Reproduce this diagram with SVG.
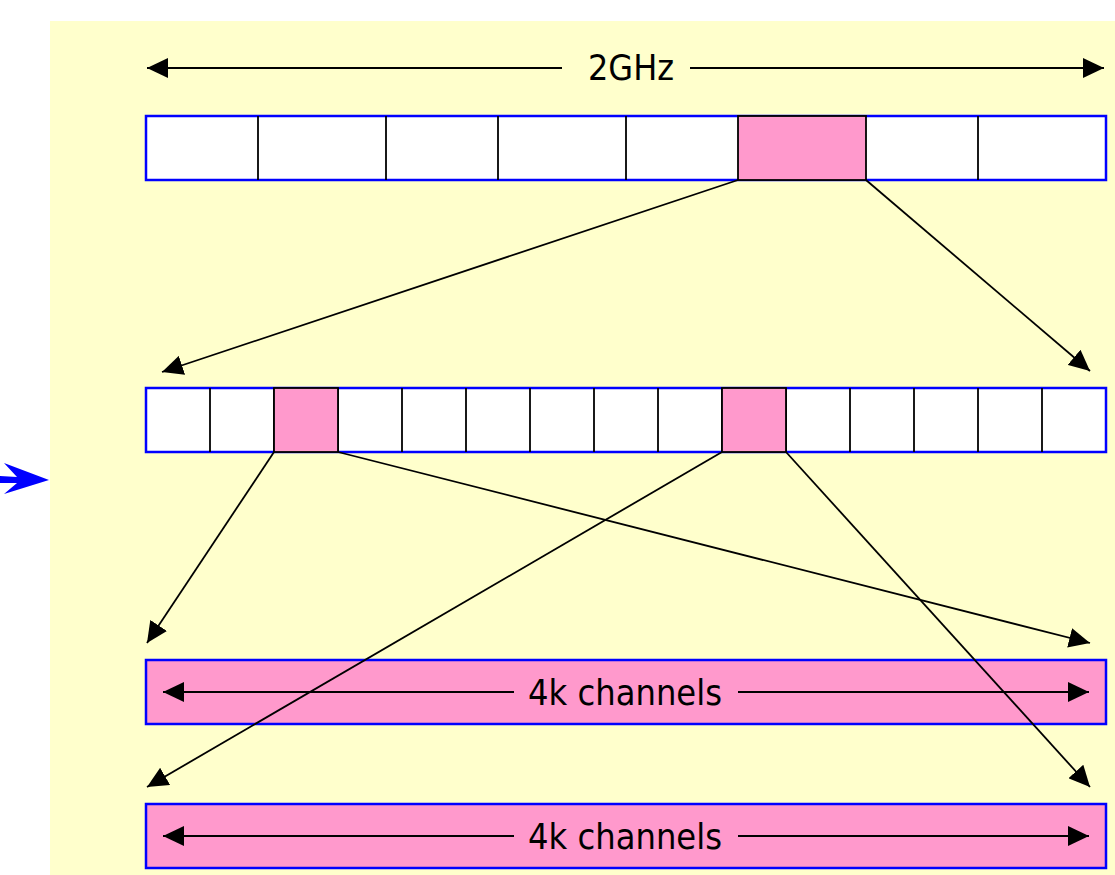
<svg xmlns="http://www.w3.org/2000/svg" width="1115" height="875" viewBox="0 0 1115 875">
<style>
.bar{stroke:#0000ff;stroke-width:2.5}
.pink{fill:#ff99cc;stroke:#000;stroke-width:1.8}
.div{fill:none;stroke:#000;stroke-width:1.8}
.con{stroke:#000;stroke-width:1.8;fill:none;marker-end:url(#ah)}
.dim{stroke:#000;stroke-width:1.8;fill:none}
.lbl{font-family:"DejaVu Sans","Liberation Sans",sans-serif;font-size:35px;fill:#000}
</style>
<defs>
<marker id="ah" markerUnits="userSpaceOnUse" markerWidth="22" markerHeight="20" refX="21" refY="10" orient="auto">
<path d="M0,0 L21,10 L0,20 Z" fill="#000"/>
</marker>
</defs>
<rect x="50" y="21" width="1065" height="854" fill="#ffffcc"/>
<path id="inarrow" d="M49,480 L4,463 L17,477 L0,476 L0,483 L17,483 L4,494 Z" fill="#0000ff"/>
<g id="bandwidth">
<line class="dim" x1="562" y1="68" x2="147" y2="68" marker-end="url(#ah)"/>
<line class="dim" x1="690" y1="68" x2="1104" y2="68" marker-end="url(#ah)"/>
<text class="lbl" x="631" y="80" text-anchor="middle" textLength="86" lengthAdjust="spacingAndGlyphs">2GHz</text>
</g>
<g id="bar1">
<rect class="bar" x="146" y="116" width="960" height="64" fill="#fff"/>
<g class="div">
<line x1="258" y1="116" x2="258" y2="180"/>
<line x1="386" y1="116" x2="386" y2="180"/>
<line x1="498" y1="116" x2="498" y2="180"/>
<line x1="626" y1="116" x2="626" y2="180"/>
<line x1="978" y1="116" x2="978" y2="180"/>
</g>
<rect class="pink" x="738" y="116" width="128" height="64"/>
</g>
<g id="bar2">
<rect class="bar" x="146" y="388" width="960" height="64" fill="#fff"/>
<g class="div">
<line x1="210" y1="388" x2="210" y2="452"/>
<line x1="274" y1="388" x2="274" y2="452"/>
<line x1="338" y1="388" x2="338" y2="452"/>
<line x1="402" y1="388" x2="402" y2="452"/>
<line x1="466" y1="388" x2="466" y2="452"/>
<line x1="530" y1="388" x2="530" y2="452"/>
<line x1="594" y1="388" x2="594" y2="452"/>
<line x1="658" y1="388" x2="658" y2="452"/>
<line x1="722" y1="388" x2="722" y2="452"/>
<line x1="786" y1="388" x2="786" y2="452"/>
<line x1="850" y1="388" x2="850" y2="452"/>
<line x1="914" y1="388" x2="914" y2="452"/>
<line x1="978" y1="388" x2="978" y2="452"/>
<line x1="1042" y1="388" x2="1042" y2="452"/>
</g>
<rect class="pink" x="274" y="388" width="64" height="64"/>
<rect class="pink" x="722" y="388" width="64" height="64"/>
</g>
<g id="bar3">
<rect class="bar" x="146" y="660" width="960" height="64" fill="#ff99cc"/>
<line class="dim" x1="514" y1="692" x2="163" y2="692" marker-end="url(#ah)"/>
<line class="dim" x1="738" y1="692" x2="1089" y2="692" marker-end="url(#ah)"/>
<text class="lbl" x="625" y="705" text-anchor="middle" textLength="194" lengthAdjust="spacingAndGlyphs">4k channels</text>
</g>
<g id="bar4">
<rect class="bar" x="146" y="804" width="960" height="64" fill="#ff99cc"/>
<line class="dim" x1="514" y1="836" x2="163" y2="836" marker-end="url(#ah)"/>
<line class="dim" x1="738" y1="836" x2="1089" y2="836" marker-end="url(#ah)"/>
<text class="lbl" x="625" y="849" text-anchor="middle" textLength="194" lengthAdjust="spacingAndGlyphs">4k channels</text>
</g>
<g id="connectors">
<line class="con" x1="738" y1="180" x2="162" y2="372"/>
<line class="con" x1="866" y1="180" x2="1090" y2="371"/>
<line class="con" x1="274" y1="452" x2="147" y2="643"/>
<line class="con" x1="338" y1="452" x2="1090" y2="643"/>
<line class="con" x1="722" y1="452" x2="147" y2="787"/>
<line class="con" x1="786" y1="452" x2="1090" y2="787"/>
</g>
</svg>
